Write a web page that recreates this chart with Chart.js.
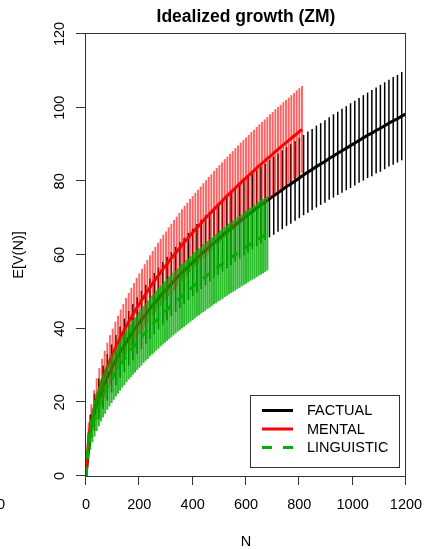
<!DOCTYPE html>
<html>
<head>
<meta charset="utf-8">
<title>Idealized growth (ZM)</title>
<script src="https://cdn.jsdelivr.net/npm/chart.js@4.4.1/dist/chart.umd.min.js"></script>
<style>
  html, body { margin: 0; padding: 0; background: #fff; }
  canvas { display: block; }
</style>
</head>
<body>
<canvas id="vgc" width="425" height="549"></canvas>
<script>
// vocabulary growth E[V(N)] under the ZM model, with confidence half-widths

const factualN = [0,16,32,48,64,80,96,112,128,144,160,176,192,208,224,240,256,272,288,304,320,336,352,368,384,400,416,432,448,464,480,496,512,528,544,560,576,592,608,624,640,656,672,688,704,720,736,752,768,784,800,816,832,848,864,880,896,912,928,944,960,976,992,1008,1024,1040,1056,1072,1088,1104,1120,1136,1152,1168,1184,1200];
const factualEV = [0,12.4,17.3,21.0,24.1,26.8,29.2,31.5,33.6,35.5,37.4,39.1,40.8,42.4,43.9,45.4,46.8,48.2,49.6,50.9,52.1,53.4,54.6,55.7,56.9,58.0,59.1,60.2,61.3,62.3,63.3,64.3,65.3,66.3,67.2,68.2,69.1,70.0,70.9,71.8,72.7,73.6,74.4,75.3,76.1,76.9,77.7,78.6,79.3,80.1,80.9,81.7,82.5,83.2,84.0,84.7,85.4,86.2,86.9,87.6,88.3,89.0,89.7,90.4,91.1,91.8,92.5,93.1,93.8,94.4,95.1,95.8,96.4,97.0,97.7,98.3];
const factualCI = [0,4.3,5.0,5.5,5.9,6.3,6.5,6.8,7.0,7.2,7.4,7.6,7.7,7.9,8.0,8.2,8.3,8.4,8.5,8.6,8.7,8.8,8.9,9.0,9.1,9.2,9.3,9.4,9.5,9.5,9.6,9.7,9.8,9.9,9.9,10.0,10.1,10.1,10.2,10.3,10.3,10.4,10.4,10.5,10.6,10.6,10.7,10.7,10.8,10.8,10.9,10.9,11.0,11.0,11.1,11.1,11.2,11.2,11.3,11.3,11.4,11.4,11.5,11.5,11.5,11.6,11.6,11.7,11.7,11.8,11.8,11.8,11.9,11.9,12.0,12.0];

const mentalN = [0,10,20,30,40,50,60,70,80,90,100,110,120,130,140,150,160,170,180,190,200,210,220,230,240,250,260,270,280,290,300,310,320,330,340,350,360,370,380,390,400,410,420,430,440,450,460,470,480,490,500,510,520,530,540,550,560,570,580,590,600,610,620,630,640,650,660,670,680,690,700,710,720,730,740,750,760,770,780,790,800,810];
const mentalEV = [0,10.5,14.8,18.1,20.9,23.4,25.6,27.6,29.6,31.4,33.0,34.7,36.2,37.7,39.1,40.5,41.8,43.1,44.3,45.6,46.7,47.9,49.0,50.1,51.2,52.3,53.3,54.3,55.3,56.3,57.2,58.2,59.1,60.0,60.9,61.8,62.7,63.6,64.4,65.3,66.1,66.9,67.7,68.5,69.3,70.1,70.9,71.6,72.4,73.2,73.9,74.6,75.4,76.1,76.8,77.5,78.2,78.9,79.6,80.3,80.9,81.6,82.3,82.9,83.6,84.3,84.9,85.5,86.2,86.8,87.4,88.1,88.7,89.3,89.9,90.5,91.1,91.7,92.3,92.9,93.5,94.1];
const mentalCI = [0,4.0,4.7,5.2,5.6,5.9,6.2,6.4,6.6,6.8,7.0,7.2,7.3,7.5,7.6,7.8,7.9,8.0,8.1,8.2,8.3,8.4,8.5,8.6,8.7,8.8,8.9,9.0,9.1,9.2,9.2,9.3,9.4,9.5,9.5,9.6,9.7,9.7,9.8,9.9,9.9,10.0,10.0,10.1,10.2,10.2,10.3,10.3,10.4,10.4,10.5,10.5,10.6,10.6,10.7,10.7,10.8,10.8,10.9,10.9,11.0,11.0,11.1,11.1,11.2,11.2,11.2,11.3,11.3,11.4,11.4,11.5,11.5,11.5,11.6,11.6,11.6,11.7,11.7,11.8,11.8,11.8];

const linguisticN = [0,8,16,24,32,40,48,56,64,72,80,88,96,104,112,120,128,136,144,152,160,168,176,184,192,200,208,216,224,232,240,248,256,264,272,280,288,296,304,312,320,328,336,344,352,360,368,376,384,392,400,408,416,424,432,440,448,456,464,472,480,488,496,504,512,520,528,536,544,552,560,568,576,584,592,600,608,616,624,632,640,648,656,664,672,680];
const linguisticEV = [0,8.2,11.3,13.7,15.7,17.4,18.9,20.4,21.7,22.9,24.1,25.2,26.2,27.2,28.2,29.1,30.0,30.9,31.7,32.6,33.4,34.1,34.9,35.6,36.3,37.0,37.7,38.4,39.1,39.7,40.4,41.0,41.6,42.2,42.8,43.4,44.0,44.5,45.1,45.7,46.2,46.7,47.3,47.8,48.3,48.8,49.3,49.8,50.3,50.8,51.3,51.8,52.3,52.7,53.2,53.7,54.1,54.6,55.0,55.5,55.9,56.3,56.8,57.2,57.6,58.1,58.5,58.9,59.3,59.7,60.1,60.5,60.9,61.3,61.7,62.1,62.5,62.9,63.2,63.6,64.0,64.4,64.8,65.1,65.5,65.9];
const linguisticCI = [0,3.6,4.2,4.6,5.0,5.2,5.4,5.6,5.8,6.0,6.1,6.3,6.4,6.5,6.6,6.7,6.8,6.9,7.0,7.1,7.2,7.3,7.4,7.5,7.5,7.6,7.7,7.7,7.8,7.9,7.9,8.0,8.1,8.1,8.2,8.2,8.3,8.3,8.4,8.5,8.5,8.5,8.6,8.6,8.7,8.7,8.8,8.8,8.9,8.9,9.0,9.0,9.0,9.1,9.1,9.2,9.2,9.2,9.3,9.3,9.3,9.4,9.4,9.5,9.5,9.5,9.6,9.6,9.6,9.7,9.7,9.7,9.8,9.8,9.8,9.9,9.9,9.9,9.9,10.0,10.0,10.0,10.1,10.1,10.1,10.1];

const categories = ["FACTUAL", "MENTAL", "LINGUISTIC"];
const xTicks = [0, 200, 400, 600, 800, 1000, 1200];
const yTicks = [0, 20, 40, 60, 80, 100, 120];

const FONT = '"Liberation Sans", Arial, Helvetica, sans-serif';
const AXIS = "#333";

const series = [
    { n: factualN, ev: factualEV, ci: factualCI, line: "#000000", bar: "#000000", width: 1.5, dash: [] },
    { n: mentalN, ev: mentalEV, ci: mentalCI, line: "#ff0000", bar: "rgba(255,0,0,0.62)", width: 1.9, dash: [] },
    { n: linguisticN, ev: linguisticEV, ci: linguisticCI, line: "#00b000", bar: "rgba(0,175,0,0.82)", width: 2.0, dash: [9, 8] }
];

function barData(s) {
    return s.n.map((n, i) => ({ x: n, y: [s.ev[i] - s.ci[i], s.ev[i] + s.ci[i]] }));
}
function lineData(s) {
    return s.n.map((n, i) => ({ x: n, y: s.ev[i] }));
}

// bars first then curve for each category; later categories sit on top
const datasets = [];
series.forEach((s, k) => {
    const depth = (series.length - 1 - k) * 2;
    datasets.push({
        type: "bar",
        label: categories[k] + " CI",
        data: barData(s),
        backgroundColor: s.bar,
        borderWidth: 0,
        barThickness: s.width,
        inflateAmount: 0,
        grouped: false,
        order: depth + 1
    });
    datasets.push({
        type: "line",
        label: categories[k],
        data: lineData(s),
        borderColor: s.line,
        borderWidth: 3,
        borderDash: s.dash,
        pointRadius: 0,
        tension: 0,
        fill: false,
        order: depth
    });
});

// box, tick marks, labels, title and legend in base-graphics style
const frame = {
    id: "frame",
    afterDraw(chart) {
        const { ctx, chartArea: a, scales: { x, y } } = chart;
        ctx.save();
        ctx.strokeStyle = AXIS;
        ctx.lineWidth = 1;
        ctx.strokeRect(a.left - 0.5, a.top - 0.5, a.right - a.left, a.bottom - a.top + 1);

        ctx.beginPath();
        xTicks.forEach(v => {
            const px = Math.round(x.getPixelForValue(v)) - 0.5;
            ctx.moveTo(px, a.bottom);
            ctx.lineTo(px, a.bottom + 9);
        });
        yTicks.forEach(v => {
            const py = Math.round(y.getPixelForValue(v)) - 0.5;
            ctx.moveTo(a.left - 10, py);
            ctx.lineTo(a.left, py);
        });
        ctx.stroke();

        ctx.fillStyle = "#000";
        ctx.font = "14.5px " + FONT;
        ctx.textAlign = "center";
        ctx.textBaseline = "alphabetic";
        xTicks.forEach(v => ctx.fillText(String(v), x.getPixelForValue(v), 509));
        ctx.textAlign = "right";
        ctx.fillText("0", 5, 509);

        yTicks.forEach(v => {
            ctx.save();
            ctx.translate(64, y.getPixelForValue(v));
            ctx.rotate(-Math.PI / 2);
            ctx.textAlign = "center";
            ctx.fillText(String(v), 0, 0);
            ctx.restore();
        });

        ctx.textAlign = "center";
        ctx.fillText("N", (a.left + a.right) / 2, 546);
        ctx.save();
        ctx.translate(23, (a.top + a.bottom) / 2);
        ctx.rotate(-Math.PI / 2);
        ctx.fillText("E[V(N)]", 0, 0);
        ctx.restore();

        ctx.font = "bold 17.5px " + FONT;
        ctx.fillText("Idealized growth (ZM)", (a.left + a.right) / 2, 22);

        // legend
        const lx = 250, ly = 395, lw = 149, lh = 72;
        ctx.fillStyle = "#fff";
        ctx.fillRect(lx, ly, lw, lh);
        ctx.strokeStyle = AXIS;
        ctx.lineWidth = 1;
        ctx.strokeRect(lx + 0.5, ly + 0.5, lw, lh);
        ctx.font = "14.5px " + FONT;
        ctx.textAlign = "left";
        ctx.textBaseline = "middle";
        categories.forEach((name, k) => {
            const ry = 410.5 + k * 18.5;
            ctx.strokeStyle = series[k].line;
            ctx.lineWidth = 3;
            ctx.setLineDash(series[k].dash.length ? [10, 11] : []);
            ctx.beginPath();
            ctx.moveTo(262, ry);
            ctx.lineTo(293, ry);
            ctx.stroke();
            ctx.setLineDash([]);
            ctx.fillStyle = "#000";
            ctx.fillText(name, 307, ry + 0.5);
        });
        ctx.restore();
    }
};

new Chart(document.getElementById("vgc"), {
    type: "bar",
    data: { datasets: datasets },
    options: {
        responsive: false,
        animation: false,
        events: [],
        layout: { padding: { left: 0, top: 34, right: 19, bottom: 0 } },
        plugins: {
            legend: { display: false },
            title: { display: false },
            tooltip: { enabled: false }
        },
        scales: {
            x: {
                type: "linear",
                min: 0,
                max: 1200,
                offset: false,
                grid: { display: false, offset: false },
                border: { display: false },
                ticks: { display: false, stepSize: 200 },
                afterFit: s => { s.height = 73; }
            },
            y: {
                type: "linear",
                min: 0,
                max: 120,
                grid: { display: false },
                border: { display: false },
                ticks: { display: false, stepSize: 20 },
                afterFit: s => { s.width = 86; }
            }
        }
    },
    plugins: [frame]
});
</script>
</body>
</html>
